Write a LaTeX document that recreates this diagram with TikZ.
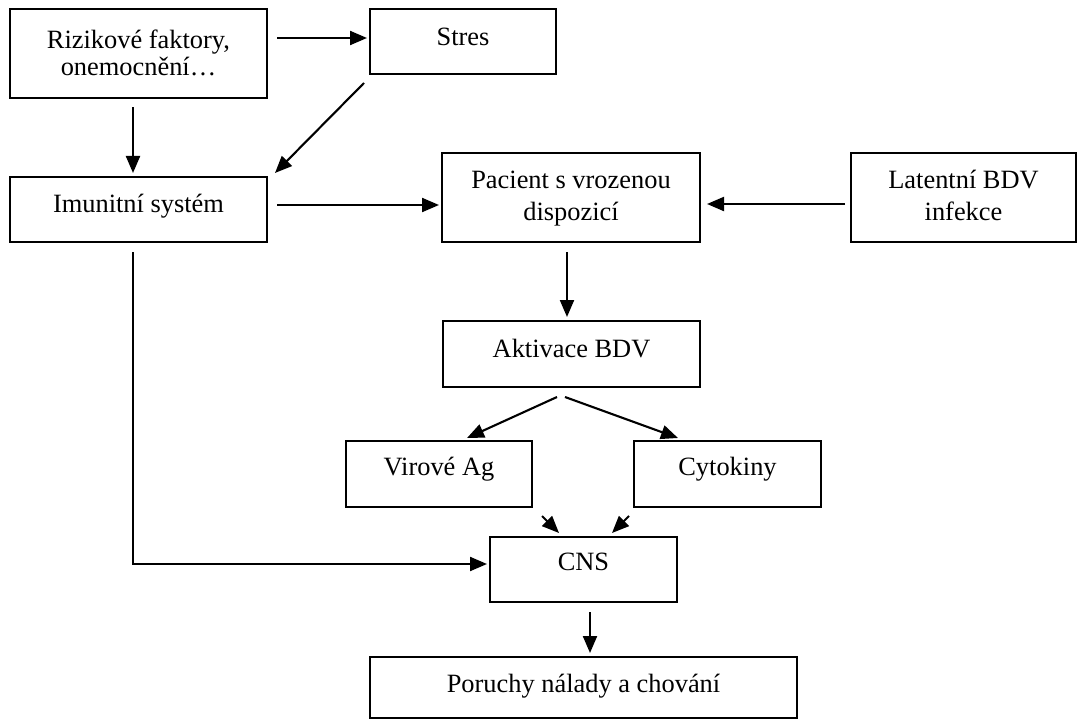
\documentclass[tikz,border=0pt]{standalone}
\usepackage{fontspec}
\setmainfont{Liberation Serif}
\usetikzlibrary{arrows.meta,calc}
\newcommand{\tx}[2][0]{\raisebox{0pt}[\height][\dimexpr\depth+#1bp\relax]{\begin{tabular}{@{}c@{}}#2\end{tabular}}}
\newcommand{\txdown}[2][0]{\raisebox{0pt}[\dimexpr\height+#1bp\relax][\depth]{\begin{tabular}{@{}c@{}}#2\end{tabular}}}
\begin{document}
\begin{tikzpicture}[x=1bp,y=-1bp,
  box/.style={draw,line width=1.6bp,rectangle,anchor=north west,inner sep=0pt,outer sep=0pt,
    font=\fontsize{26.4bp}{27bp}\selectfont},
  arr/.style={line width=2.1bp,-{Triangle[length=17bp,width=14bp]}}]
\fill[white] (0,0) rectangle (1078,720);
\useasboundingbox (0,0) rectangle (1078,720);

\node[box,minimum width=257bp,minimum height=89bp] (riz) at (10,9) {\txdown[6]{Rizikové faktory,\\onemocnění…}};
\node[box,minimum width=186bp,minimum height=65bp] (stres) at (370,9) {\tx[3]{Stres}};
\node[box,minimum width=257bp,minimum height=65bp] (imun) at (10,177) {\tx[5]{Imunitní systém}};
\node[box,minimum width=258bp,minimum height=89bp] (pac) at (442,153) {\txdown[4]{Pacient s vrozenou\\[5bp]dispozicí}};
\node[box,minimum width=225bp,minimum height=89bp] (lat) at (851,153) {\txdown[4]{Latentní BDV\\[5bp]infekce}};
\node[box,minimum width=257bp,minimum height=66bp] (akt) at (443,321) {\tx[4]{Aktivace BDV}};
\node[box,minimum width=186bp,minimum height=66bp] (vir) at (346,441) {\tx[8]{Virové Ag}};
\node[box,minimum width=187bp,minimum height=66bp] (cyt) at (634,441) {\tx[8]{Cytokiny}};
\node[box,minimum width=187bp,minimum height=65bp] (cns) at (490,537) {\tx[9]{CNS}};
\node[box,minimum width=427bp,minimum height=61bp] (por) at (370,657) {\tx[1]{Poruchy nálady a chování}};

\draw[arr] ($(riz.north east)+(10,29)$) -- ($(stres.north west)+(-3,29)$);
\draw[arr] ($(riz.south west)+(123,9)$) -- ($(imun.north west)+(123,-4)$);
\draw[arr] ($(stres.south west)+(-6,9)$) -- ($(imun.north east)+(8,-4)$);
\draw[arr] ($(imun.north east)+(10,28)$) -- ($(pac.north west)+(-3,52)$);
\draw[arr] ($(lat.north west)+(-6,51)$) -- ($(pac.north east)+(7,51)$);
\draw[arr] ($(pac.south west)+(125,10)$) -- ($(akt.north west)+(124,-4)$);
\draw[arr] ($(akt.south west)+(114,10)$) -- ($(vir.north west)+(121,-3)$);
\draw[arr] ($(akt.south west)+(122,10)$) -- ($(cyt.north west)+(44,-3)$);
\draw[arr] ($(imun.south west)+(123,10)$) |- ($(cns.north west)+(-3,27)$);
\draw[arr] ($(vir.south east)+(10,9)$) -- ($(cns.north west)+(69,-4)$);
\draw[arr] ($(cyt.south west)+(-5,9)$) -- ($(cns.north east)+(-65,-4)$);
\draw[arr] ($(cns.south west)+(100,10)$) -- ($(por.north west)+(220,-4)$);
\end{tikzpicture}
\end{document}
